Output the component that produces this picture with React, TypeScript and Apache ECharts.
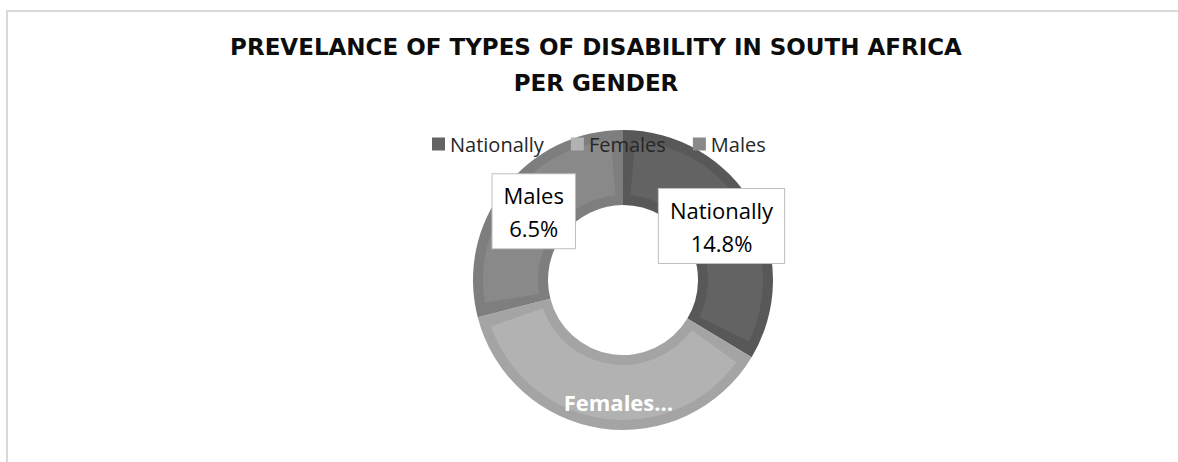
import React, { useEffect, useRef } from "react";
import * as echarts from "echarts";

const categories = ["Nationally", "Females", "Males"];
// slice sizes (share of the ring)
const shares = [33.6, 37.4, 29.0];
// percentages printed in the data labels
const labelPercents = ["14.8%", "", "6.5%"];
const edgeColors = ["#585858", "#a4a4a4", "#7e7e7e"];
const fillColors = ["#636363", "#b2b2b2", "#898989"];
const titleText = "PREVELANCE OF TYPES OF DISABILITY IN SOUTH AFRICA\nPER GENDER";

const boxLabel = {
  show: true,
  position: "inside",
  color: "#000",
  fontFamily: "Open Sans",
  fontSize: 22,
  lineHeight: 33,
  backgroundColor: "#ffffff",
  borderColor: "#bfbfbf",
  borderWidth: 1,
  padding: [4, 11, 4, 11],
};

const labelOffsets: Record<string, number[]> = {
  Nationally: [-2, 3],
  Females: [12, 8],
  Males: [2, 2],
};

export default function App() {
  const ref = useRef<HTMLDivElement>(null);
  useEffect(() => {
    document.body.style.margin = "0";
    const chart = echarts.init(ref.current!, null, { renderer: "svg" });
    const fillData = categories.map((name, i) => {
      let label: any;
      if (name === "Females") {
        label = {
          show: true,
          position: "inside",
          formatter: "Females…",
          color: "#ffffff",
          fontFamily: "Open Sans",
          fontWeight: "bold",
          fontSize: 22,
          offset: labelOffsets[name],
        };
      } else {
        label = { ...boxLabel, formatter: `{b}\n${labelPercents[i]}`, offset: labelOffsets[name] };
      }
      return { name, value: shares[i], itemStyle: { color: fillColors[i] }, label };
    });
    const edgeData = categories.map((name, i) => ({
      name,
      value: shares[i],
      itemStyle: { color: edgeColors[i] },
    }));
    chart.setOption({
      animation: false,
      backgroundColor: "#ffffff",
      title: {
        text: titleText,
        left: 596,
        top: 29,
        padding: 0,
        textAlign: "center",
        textStyle: {
          fontFamily: "DejaVu Sans",
          fontWeight: "bold",
          fontSize: 23,
          lineHeight: 36,
          color: "#0d0d0d",
        },
      },
      legend: {
        data: categories,
        left: 432,
        top: 134,
        padding: 0,
        z: 20,
        zlevel: 0,
        itemWidth: 13,
        itemHeight: 13,
        itemGap: 27,
        icon: "rect",
        textStyle: { fontFamily: "Open Sans", fontSize: 20, color: "#262626" },
        selectedMode: false,
      },
      graphic: [
        {
          type: "rect",
          shape: { x: 7, y: 11, width: 1250, height: 600 },
          style: { fill: "none", stroke: "#d9d9d9", lineWidth: 2 },
          silent: true,
        },
      ],
      series: [
        {
          type: "pie",
          name: "fill",
          center: [623, 280],
          radius: [85, 140],
          startAngle: 90,
          clockwise: true,
          padAngle: 10,
          z: 4,
          labelLine: { show: false },
          emphasis: { disabled: true },
          data: fillData,
        },
        {
          type: "pie",
          name: "edge",
          center: [623, 280],
          radius: [75, 150],
          startAngle: 90,
          clockwise: true,
          z: 2,
          silent: true,
          label: { show: false },
          labelLine: { show: false },
          emphasis: { disabled: true },
          data: edgeData,
        },
      ],
    });
    return () => chart.dispose();
  }, []);
  return <div ref={ref} style={{ width: 1178, height: 462 }} />;
}
